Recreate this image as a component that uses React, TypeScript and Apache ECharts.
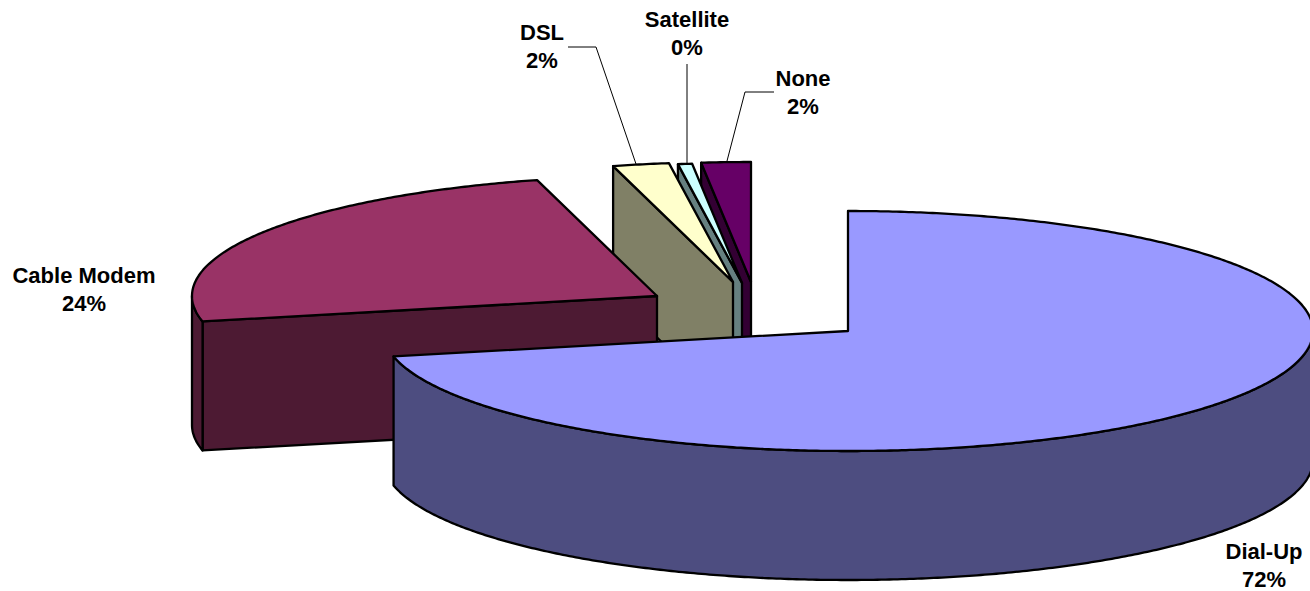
import React, { useEffect, useRef } from "react";
import * as echarts from "echarts";

// Home internet connection types, share of respondents in percent.
const categories = ["Dial-Up", "Cable Modem", "DSL", "Satellite", "None"];
const shares = [71.6, 24.25, 1.95, 0.49, 1.71];

// Appearance of each wedge, in the same order as the categories.
const topColors = ["#9999FF", "#993366", "#FFFFCC", "#CCFFFF", "#660066"];
const sideColors = ["#4D4D80", "#4D1A33", "#808066", "#668080", "#330033"];
const apexes: [number, number][] = [
  [848, 331],
  [657, 296],
  [733, 282],
  [742, 283],
  [751, 282],
];
const labelAnchors: [number, number][] = [
  [1264, 565],
  [84, 289],
  [542, 46],
  [687, 33],
  [803, 92],
];
const leaderLines: [number, number][][] = [
  [],
  [],
  [[568, 47], [596, 47], [636, 164]],
  [[687, 64], [687, 163]],
  [[774, 92], [745, 92], [727, 161]],
];

const RX = 465;
const RY = 120;
const DEPTH = 129;
const total = shares.reduce((a, b) => a + b, 0);

function ringPoint(apex: [number, number], deg: number, drop = 0): [number, number] {
  const r = (deg * Math.PI) / 180;
  return [apex[0] + RX * Math.sin(r), apex[1] - RY * Math.cos(r) + drop];
}

function arc(apex: [number, number], from: number, to: number, drop = 0) {
  const pts: [number, number][] = [];
  const steps = Math.max(1, Math.ceil((to - from) * 2));
  for (let i = 0; i <= steps; i++) {
    pts.push(ringPoint(apex, from + ((to - from) * i) / steps, drop));
  }
  return pts;
}

function face(points: [number, number][], fill: string) {
  return {
    type: "polygon",
    shape: { points },
    style: { fill, stroke: "#000", lineWidth: 2.3, lineJoin: "round" },
  };
}

// A radial cut through the wedge, extruded downwards.
function cutFace(apex: [number, number], deg: number, fill: string) {
  const rim = ringPoint(apex, deg);
  return face(
    [apex, rim, [rim[0], rim[1] + DEPTH], [apex[0], apex[1] + DEPTH]],
    fill,
  );
}

function renderWedge(params: any, api: any) {
  const index = api.value(0) as number;
  let from = 0;
  for (let i = 0; i < index; i++) from += (shares[i] / total) * 360;
  const to = from + (api.value(1) / total) * 360;
  const apex = apexes[index];
  const children: any[] = [];

  // Radial faces turned towards the viewer.
  if (from > 180) children.push(cutFace(apex, from, sideColors[index]));
  if (to < 180) children.push(cutFace(apex, to, sideColors[index]));

  // Curved outer wall, only on the front half of the ring.
  const wallFrom = Math.max(from, 90);
  const wallTo = Math.min(to, 270);
  if (wallTo > wallFrom) {
    children.push(
      face(
        [
          ...arc(apex, wallFrom, wallTo),
          ...arc(apex, wallFrom, wallTo, DEPTH).reverse(),
        ],
        sideColors[index],
      ),
    );
  }

  children.push(face([apex, ...arc(apex, from, to)], topColors[index]));

  if (leaderLines[index].length) {
    children.push({
      type: "polyline",
      shape: { points: leaderLines[index] },
      style: { fill: "none", stroke: "#000", lineWidth: 1 },
    });
  }

  const [lx, ly] = labelAnchors[index];
  children.push({
    type: "text",
    style: {
      x: lx,
      y: ly,
      text: `${categories[index]}\n${Math.round(api.value(1))}%`,
      align: "center",
      verticalAlign: "middle",
      fontFamily: "Liberation Sans",
      fontWeight: "bold",
      fontSize: 22,
      lineHeight: 28,
      fill: "#000",
    },
  });

  return { type: "group", children };
}

export default function App() {
  const ref = useRef<HTMLDivElement>(null);

  useEffect(() => {
    document.body.style.margin = "0";
    const chart = echarts.init(ref.current!, undefined, { renderer: "svg" });
    // Painted back to front: the small rear wedges first, the large one last.
    const paintOrder = shares.map((v, i) => [i, v]).reverse();
    chart.setOption({
      animation: false,
      backgroundColor: "#fff",
      series: [
        {
          type: "custom",
          coordinateSystem: "none",
          renderItem: renderWedge,
          data: paintOrder,
          encode: { value: [0, 1] },
          silent: true,
        },
      ],
    });
    return () => chart.dispose();
  }, []);

  return <div ref={ref} style={{ width: 1310, height: 591, overflow: "hidden" }} />;
}
